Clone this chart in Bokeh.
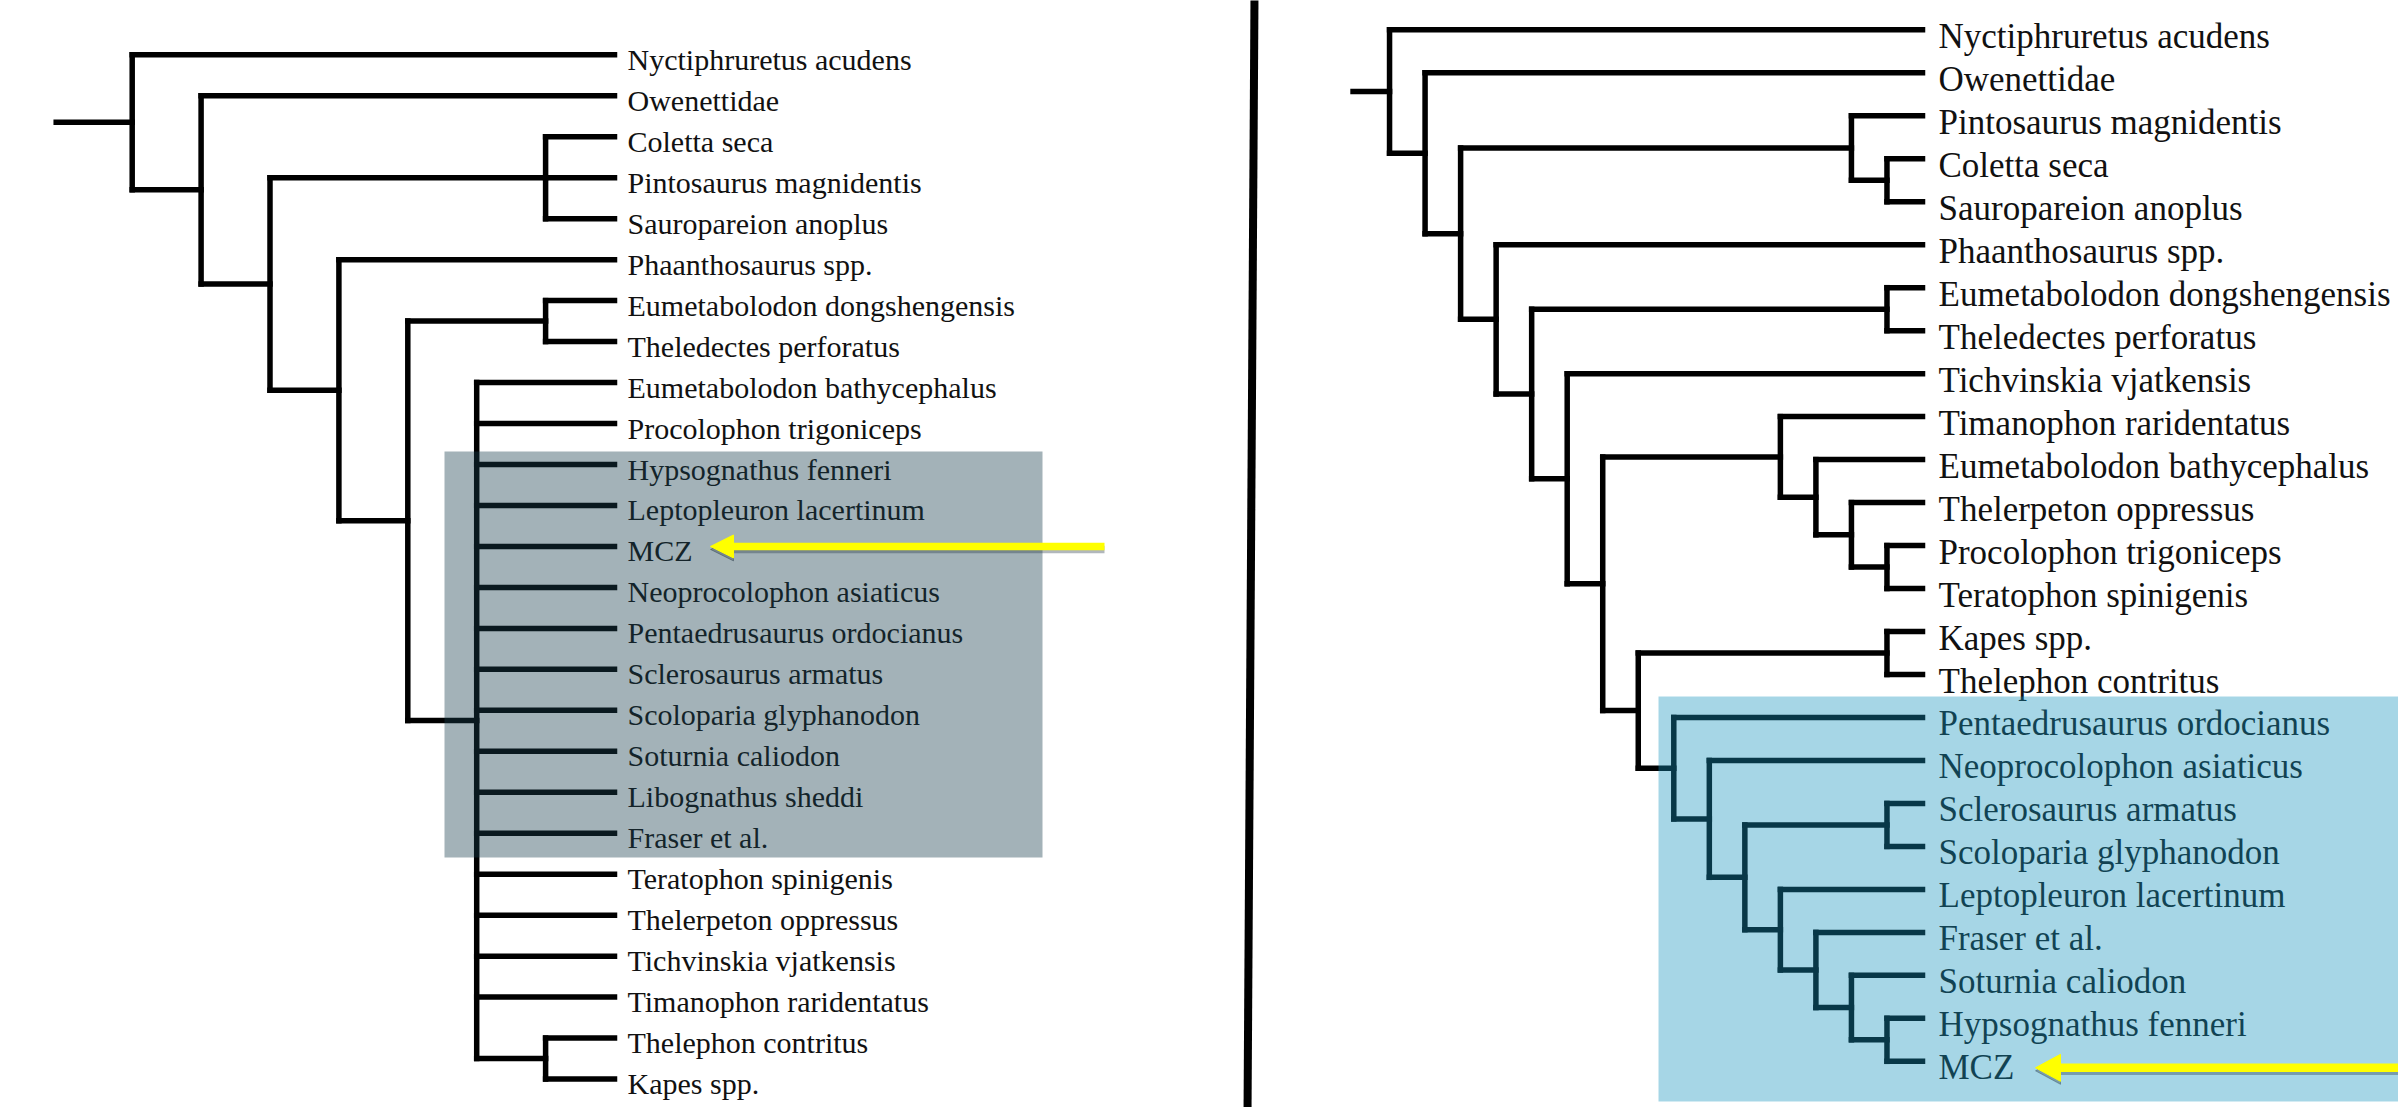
from bokeh.plotting import figure
from bokeh.models import Range1d, ColumnDataSource
from bokeh.core.properties import value
from bokeh.embed import file_html
from bokeh.resources import INLINE

# ---------------- data ----------------
left_taxa = [
    "Nyctiphruretus acudens", "Owenettidae", "Coletta seca", "Pintosaurus magnidentis",
    "Sauropareion anoplus", "Phaanthosaurus spp.", "Eumetabolodon dongshengensis",
    "Theledectes perforatus", "Eumetabolodon bathycephalus", "Procolophon trigoniceps",
    "Hypsognathus fenneri", "Leptopleuron lacertinum", "MCZ", "Neoprocolophon asiaticus",
    "Pentaedrusaurus ordocianus", "Sclerosaurus armatus", "Scoloparia glyphanodon",
    "Soturnia caliodon", "Libognathus sheddi", "Fraser et al.", "Teratophon spinigenis",
    "Thelerpeton oppressus", "Tichvinskia vjatkensis", "Timanophon raridentatus",
    "Thelephon contritus", "Kapes spp.",
]
left_polytomy = left_taxa[8:24]
left_tree = [left_taxa[0],
             [left_taxa[1],
              [[left_taxa[2], left_taxa[3], left_taxa[4]],
               [left_taxa[5],
                [[left_taxa[6], left_taxa[7]],
                 left_polytomy + [[left_taxa[24], left_taxa[25]]]]]]]]

right_taxa = [
    "Nyctiphruretus acudens", "Owenettidae", "Pintosaurus magnidentis", "Coletta seca",
    "Sauropareion anoplus", "Phaanthosaurus spp.", "Eumetabolodon dongshengensis",
    "Theledectes perforatus", "Tichvinskia vjatkensis", "Timanophon raridentatus",
    "Eumetabolodon bathycephalus", "Thelerpeton oppressus", "Procolophon trigoniceps",
    "Teratophon spinigenis", "Kapes spp.", "Thelephon contritus",
    "Pentaedrusaurus ordocianus", "Neoprocolophon asiaticus", "Sclerosaurus armatus",
    "Scoloparia glyphanodon", "Leptopleuron lacertinum", "Fraser et al.",
    "Soturnia caliodon", "Hypsognathus fenneri", "MCZ",
]
r = right_taxa
right_tree = [r[0],
              [r[1],
               [[r[2], [r[3], r[4]]],
                [r[5],
                 [[r[6], r[7]],
                  [r[8],
                   [[r[9], [r[10], [r[11], [r[12], r[13]]]]],
                    [[r[14], r[15]],
                     [r[16],
                      [r[17],
                       [[r[18], r[19]],
                        [r[20], [r[21], [r[22], [r[23], r[24]]]]]]]]]]]]]]]]

highlight_target = "MCZ"

# ---------------- layout ----------------
def height(n):
    return 0 if isinstance(n, str) else 1 + max(height(c) for c in n)

def layout(tree, y0, dy, tip_x, step, stem):
    segs = []
    leaves = []
    counter = [0]

    def rec(n):
        if isinstance(n, str):
            y = y0 + dy * counter[0]
            counter[0] += 1
            leaves.append((n, y))
            return tip_x, y
        x = tip_x - height(n) * step
        pts = [rec(c) for c in n]
        ys = [p[1] for p in pts]
        for cx, cy in pts:
            segs.append((x, cy, cx, cy))
        segs.append((x, ys[0], x, ys[-1]))
        return x, (ys[0] + ys[-1]) / 2.0

    rx, ry = rec(tree)
    segs.append((rx - stem, ry, rx, ry))
    return segs, leaves

L_segs, L_leaves = layout(left_tree, 54.3, 40.97, 614, 68.9, 76)
R_segs, R_leaves = layout(right_tree, 29.3, 42.98, 1922, 35.53, 36.5)

W, H = 2398, 1107
p = figure(width=W, height=H, output_backend="svg", toolbar_location=None,
           x_range=Range1d(0, W), y_range=Range1d(H, 0),
           min_border=0)
p.xaxis.visible = False
p.yaxis.visible = False
p.grid.visible = False
p.outline_line_color = None
p.background_fill_color = "white"
p.border_fill_color = "white"

# panel separator
p.segment(x0=[1254], y0=[-5], x1=[1247], y1=[1115], line_color="black", line_width=8)

def draw_tree(segs, lw):
    src = ColumnDataSource(dict(x0=[s[0] for s in segs], y0=[s[1] for s in segs],
                                x1=[s[2] for s in segs], y1=[s[3] for s in segs]))
    p.segment(x0="x0", y0="y0", x1="x1", y1="y1", source=src, line_color="black",
              line_width=lw, line_cap="square")

draw_tree(L_segs, 5.5)
draw_tree(R_segs, 5.5)

def draw_labels(leaves, x, dyb, size):
    src = ColumnDataSource(dict(x=[x] * len(leaves), y=[l[1] + dyb for l in leaves],
                                t=[l[0] for l in leaves]))
    p.text(x="x", y="y", text="t", source=src, text_font=value("Liberation Serif"),
           text_font_size=value(size), text_baseline="alphabetic", text_align="left",
           text_color="#111111")

draw_labels(L_leaves, 627, 4.5, "30px")
draw_labels(R_leaves, 1938, 6.5, "35px")

# highlight boxes (translucent overlays)
p.quad(left=[444], right=[1042], top=[451], bottom=[857],
       fill_color=(25, 62, 77), fill_alpha=0.4, line_color=None)
p.quad(left=[1658], right=[2400], top=[696], bottom=[1101],
       fill_color=(21, 147, 189), fill_alpha=0.38, line_color=None)

# yellow arrows pointing to MCZ (with a faint drop shadow)
def arrow(tip_x, tail_x, y, head_len, head_half, lw):
    for dy, color, alpha in [(3, "#203040", 0.35), (0, "#ffff00", 1.0)]:
        p.segment(x0=[tip_x + head_len - 1], y0=[y + dy], x1=[tail_x], y1=[y + dy],
                  line_color=color, line_width=lw, line_alpha=alpha)
        p.patch(x=[tip_x, tip_x + head_len, tip_x + head_len],
                y=[y + dy, y + dy - head_half, y + dy + head_half],
                fill_color=color, fill_alpha=alpha, line_color=color,
                line_alpha=alpha, line_width=1)

yl = dict(L_leaves)[highlight_target]
yr = dict(R_leaves)[highlight_target]
arrow(710, 1104, yl, 23, 11.5, 7.5)
arrow(2035, 2400, yr + 6.5, 25, 13.5, 8.5)

open("out.html", "w").write(file_html(p, INLINE))
